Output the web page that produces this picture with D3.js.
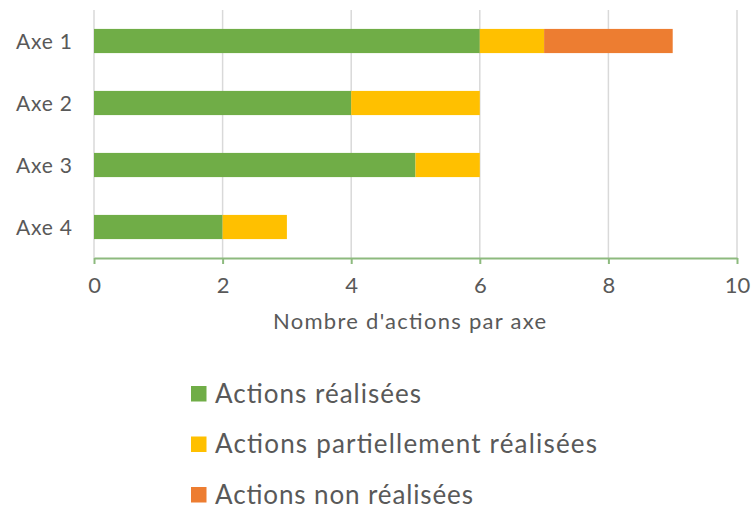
<!DOCTYPE html>
<html>
<head>
<meta charset="utf-8">
<script src="https://cdn.jsdelivr.net/npm/d3@7"></script>
<style>
  body { margin: 0; background: #fff; }
  text { font-family: "Lato", "Open Sans", sans-serif; fill: #595959; }
</style>
</head>
<body>
<script>
const axes = ['Axe 1', 'Axe 2', 'Axe 3', 'Axe 4'];
const realisees = [6, 4, 5, 2];
const partielles = [1, 2, 1, 1];
const nonRealisees = [2, 0, 0, 0];
const series = ['Actions réalisées', 'Actions partiellement réalisées', 'Actions non réalisées'];
const colors = ['#70AD47', '#FFC000', '#ED7D31'];
const xTicks = [0, 2, 4, 6, 8, 10];
const legendWidths = [206, 382, 258];

const width = 753;
const height = 505;
const margin = { left: 94, right: 16, top: 10, bottom: 247 };

const svg = d3.select('body').append('svg')
    .attr('width', width)
    .attr('height', height);

const x = d3.scaleLinear()
    .domain([0, 10])
    .range([margin.left, width - margin.right]);

const y = d3.scaleBand()
    .domain(axes)
    .range([margin.top, height - margin.bottom])
    .paddingInner(0.61)
    .paddingOuter(0.305);

// grid
svg.append('g')
    .selectAll('line')
    .data(xTicks)
    .join('line')
        .attr('stroke', '#d9d9d9')
        .attr('stroke-width', 1.5)
        .attr('x1', d => x(d))
        .attr('x2', d => x(d))
        .attr('y1', margin.top)
        .attr('y2', height - margin.bottom);

const table = axes.map((a, i) => ({
    axe: a,
    [series[0]]: realisees[i],
    [series[1]]: partielles[i],
    [series[2]]: nonRealisees[i]
}));

const stacked = d3.stack().keys(series)(table);

svg.append('g')
    .selectAll('g')
    .data(stacked)
    .join('g')
        .attr('fill', (d, i) => colors[i])
    .selectAll('rect')
    .data(d => d.filter(v => v[1] > v[0]))
    .join('rect')
        .attr('x', d => x(d[0]))
        .attr('y', d => y(d.data.axe))
        .attr('width', d => x(d[1]) - x(d[0]))
        .attr('height', y.bandwidth());

// x axis
const xAxis = svg.append('g')
    .attr('transform', `translate(0, ${height - margin.bottom})`)
    .call(d3.axisBottom(x).tickValues(xTicks).tickSize(6).tickPadding(10).tickSizeOuter(0));

xAxis.select('.domain').attr('stroke', '#8DBA7E').attr('stroke-width', 2);
xAxis.selectAll('.tick line').attr('stroke', '#8DBA7E').attr('stroke-width', 2);
xAxis.selectAll('.tick text')
    .attr('y', 35)
    .attr('dy', null)
    .attr('font-size', 22)
    .attr('fill', '#595959')
    .style('font-family', '"Lato", sans-serif');

// y labels
svg.append('g')
    .selectAll('text')
    .data(axes)
    .join('text')
        .attr('x', 16)
        .attr('y', d => y(d) + y.bandwidth() / 2 + 7.5)
        .attr('font-size', 21)
        .attr('textLength', 56)
        .attr('lengthAdjust', 'spacing')
        .text(d => d);

svg.append('text')
    .attr('x', 273)
    .attr('y', 328.5)
    .attr('font-size', 22)
    .attr('textLength', 273)
    .attr('lengthAdjust', 'spacing')
    .text("Nombre d'actions par axe");

// legend
const legend = svg.append('g')
    .selectAll('g')
    .data(series)
    .join('g')
        .attr('transform', (d, i) => `translate(191, ${386 + i * 50.5})`);

legend.append('rect')
    .attr('x', 0)
    .attr('y', 0)
    .attr('width', 15.5)
    .attr('height', 15.5)
    .attr('fill', (d, i) => colors[i]);

legend.append('text')
    .attr('x', 24)
    .attr('y', 16.5)
    .attr('font-size', 26)
    .attr('textLength', (d, i) => legendWidths[i])
    .attr('lengthAdjust', 'spacing')
    .text(d => d);
</script>
</body>
</html>
